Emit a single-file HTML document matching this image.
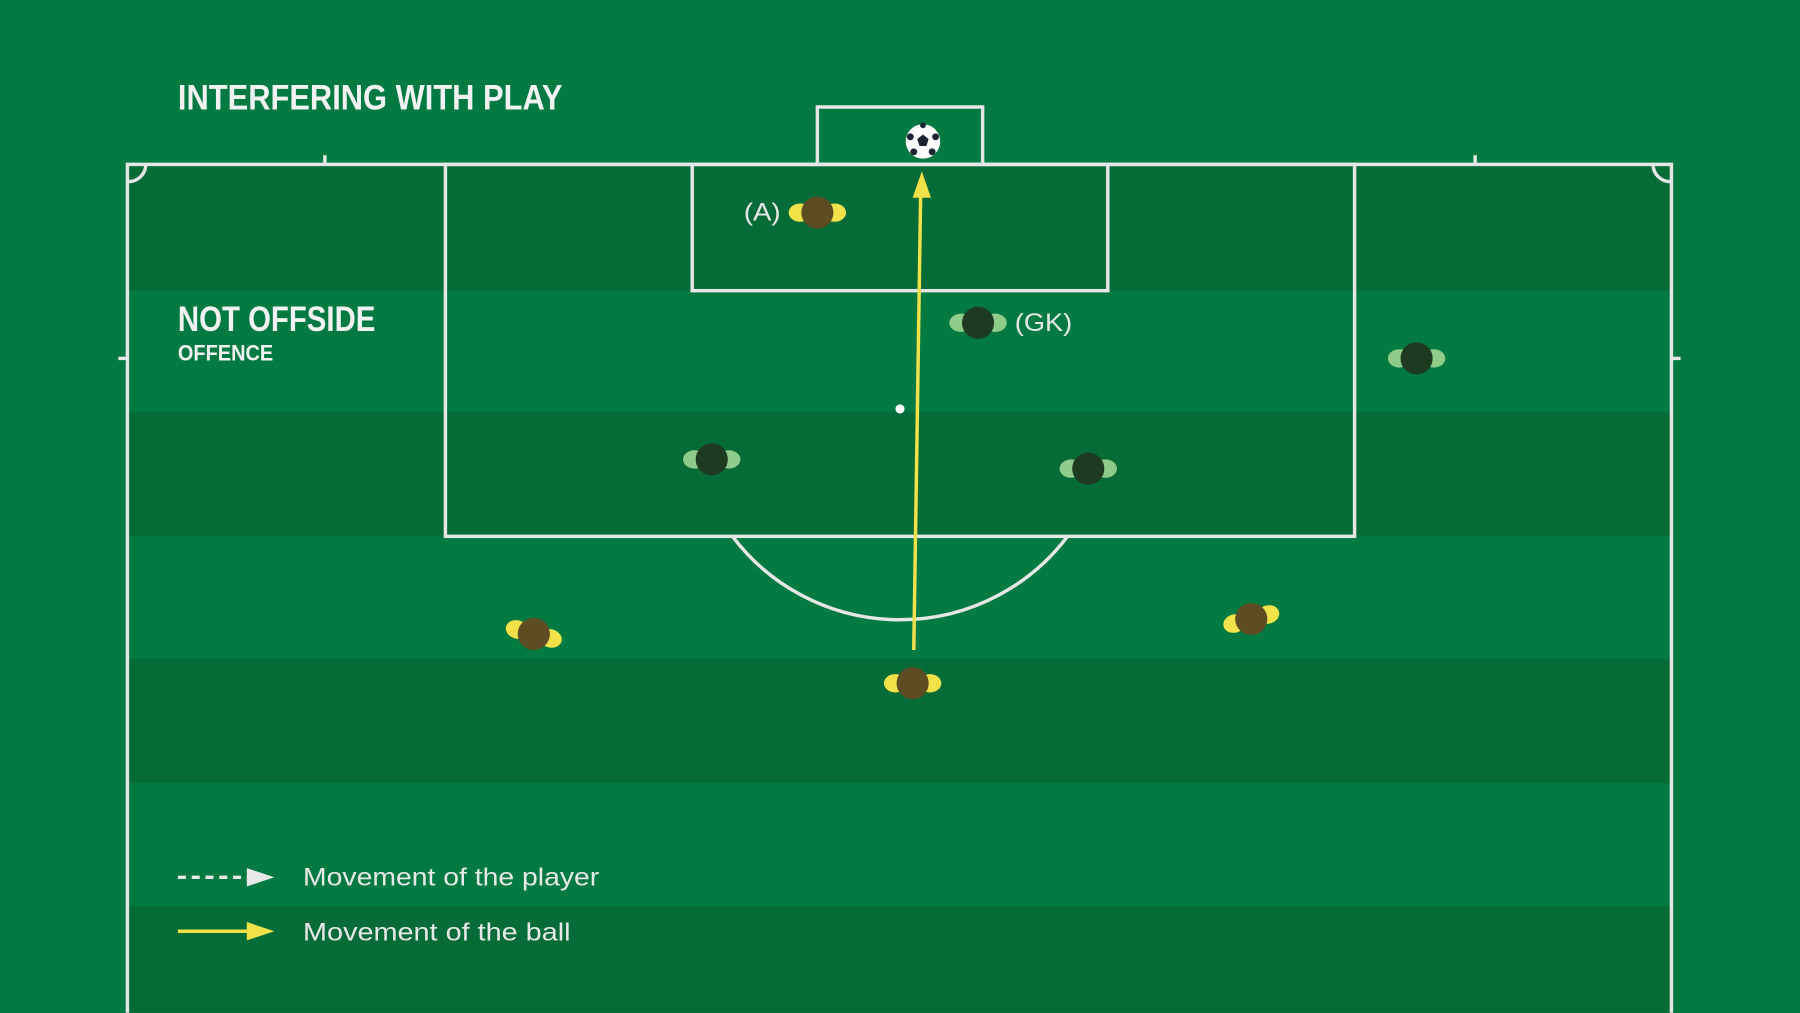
<!DOCTYPE html>
<html><head><meta charset="utf-8"><style>html,body{margin:0;padding:0;background:#007a40;}svg{display:block}</style></head>
<body>
<svg width="1800" height="1013" viewBox="0 0 1568 882" xmlns="http://www.w3.org/2000/svg">
<rect width="1568" height="882" fill="#007a40"/>
<g fill="#066c37">
<rect x="112" y="143" width="1343" height="110"/>
<rect x="112" y="359" width="1343" height="108"/>
<rect x="112" y="574" width="1343" height="108"/>
<rect x="112" y="789" width="1343" height="93"/>
</g>
<g fill="none" stroke="#e6e6e6" stroke-width="3">
<polyline points="111,882 111,143 1456,143 1456,882"/>
<rect x="388" y="143" width="792" height="324"/>
<rect x="603" y="143" width="362" height="110"/>
<polyline points="712,143 712,93 856,93 856,143"/>
<path d="M638,467 A183,183 0 0 0 930,467"/>
<path d="M112,158 A15,15 0 0 0 127,143"/>
<path d="M1455,158 A15,15 0 0 1 1440,143"/>
<line x1="283" y1="135" x2="283" y2="143"/>
<line x1="1285" y1="135" x2="1285" y2="143"/>
<line x1="103" y1="312" x2="111" y2="312"/>
<line x1="1456" y1="312" x2="1464" y2="312"/>
</g>
<circle cx="784" cy="356" r="4" fill="#fff"/>
<circle cx="804" cy="123" r="15" fill="#fff"/>
<g fill="#1b2430">
<polygon points="804,117 809,121 807,127 801,127 799,121"/>
<circle cx="793" cy="119" r="3"/><circle cx="815" cy="119" r="3"/>
<circle cx="796" cy="132" r="3"/><circle cx="812" cy="132" r="3"/><circle cx="804" cy="109" r="2.5"/>
</g>
<line x1="796" y1="566" x2="802" y2="168" stroke="#f2e24a" stroke-width="3"/>
<polygon points="803,149 795,172 811,172" fill="#f2e24a"/>
<g>
<g transform="translate(712,185)"><ellipse cx="-15" cy="0" rx="10" ry="8" fill="#f2e24a"/><ellipse cx="15" cy="0" rx="10" ry="8" fill="#f2e24a"/><circle r="14" fill="#5e4c22"/></g>
<g transform="translate(465,552) rotate(15)"><ellipse cx="-15" cy="0" rx="10" ry="8" fill="#f2e24a"/><ellipse cx="15" cy="0" rx="10" ry="8" fill="#f2e24a"/><circle r="14" fill="#5e4c22"/></g>
<g transform="translate(1090,539) rotate(-15)"><ellipse cx="-15" cy="0" rx="10" ry="8" fill="#f2e24a"/><ellipse cx="15" cy="0" rx="10" ry="8" fill="#f2e24a"/><circle r="14" fill="#5e4c22"/></g>
<g transform="translate(795,595)"><ellipse cx="-15" cy="0" rx="10" ry="8" fill="#f2e24a"/><ellipse cx="15" cy="0" rx="10" ry="8" fill="#f2e24a"/><circle r="14" fill="#5e4c22"/></g>
</g>
<g>
<g transform="translate(852,281)"><ellipse cx="-15" cy="0" rx="10" ry="8" fill="#8fcc8a"/><ellipse cx="15" cy="0" rx="10" ry="8" fill="#8fcc8a"/><circle r="14" fill="#1e3a20"/></g>
<g transform="translate(1234,312)"><ellipse cx="-15" cy="0" rx="10" ry="8" fill="#8fcc8a"/><ellipse cx="15" cy="0" rx="10" ry="8" fill="#8fcc8a"/><circle r="14" fill="#1e3a20"/></g>
<g transform="translate(620,400)"><ellipse cx="-15" cy="0" rx="10" ry="8" fill="#8fcc8a"/><ellipse cx="15" cy="0" rx="10" ry="8" fill="#8fcc8a"/><circle r="14" fill="#1e3a20"/></g>
<g transform="translate(948,408)"><ellipse cx="-15" cy="0" rx="10" ry="8" fill="#8fcc8a"/><ellipse cx="15" cy="0" rx="10" ry="8" fill="#8fcc8a"/><circle r="14" fill="#1e3a20"/></g>
</g>
<g font-family="'Liberation Sans', sans-serif" fill="#e8e8e8">
<text x="648" y="192" font-size="22" textLength="32" lengthAdjust="spacingAndGlyphs">(A)</text>
<text x="884" y="288" font-size="22" textLength="50" lengthAdjust="spacingAndGlyphs">(GK)</text>
<text x="155" y="95" font-size="31" font-weight="bold" textLength="335" lengthAdjust="spacingAndGlyphs" fill="#f2f2f2">INTERFERING WITH PLAY</text>
<text x="155" y="288" font-size="31" font-weight="bold" textLength="172" lengthAdjust="spacingAndGlyphs" fill="#f2f2f2">NOT OFFSIDE</text>
<text x="155" y="314" font-size="19" font-weight="bold" textLength="83" lengthAdjust="spacingAndGlyphs" fill="#f2f2f2">OFFENCE</text>
<text x="264" y="771" font-size="22" textLength="258" lengthAdjust="spacingAndGlyphs">Movement of the player</text>
<text x="264" y="819" font-size="22" textLength="233" lengthAdjust="spacingAndGlyphs">Movement of the ball</text>
</g>
<line x1="155" y1="764" x2="216" y2="764" stroke="#e8e8e8" stroke-width="3" stroke-dasharray="7,5"/>
<polygon points="239,764 215,756 215,772" fill="#e8e8e8"/>
<line x1="155" y1="811" x2="216" y2="811" stroke="#f2e24a" stroke-width="3"/>
<polygon points="239,811 215,803 215,819" fill="#f2e24a"/>
</svg>
</body></html>
